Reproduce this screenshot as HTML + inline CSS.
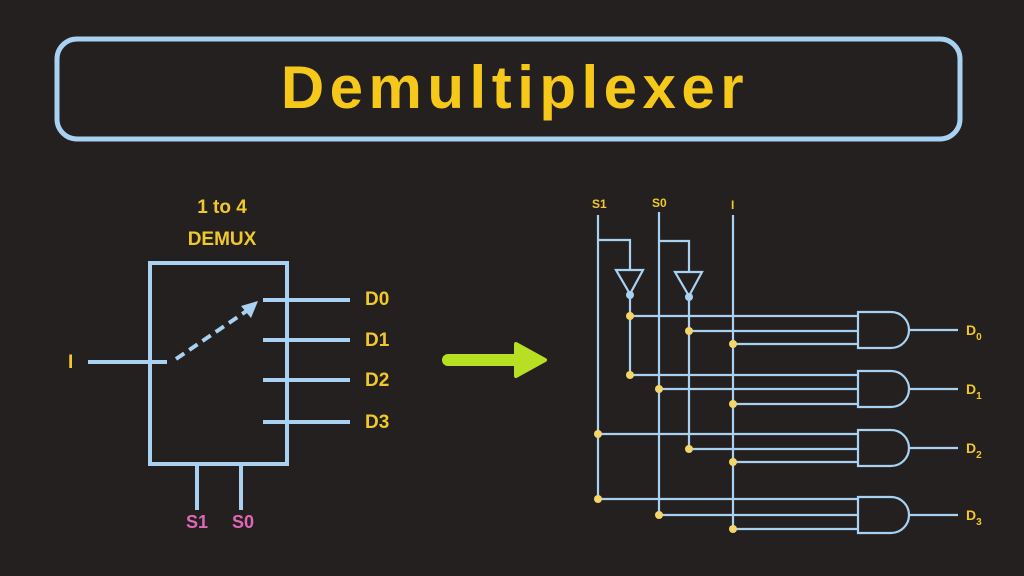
<!DOCTYPE html>
<html><head><style>
html,body{margin:0;padding:0;background:#242020;}
svg{display:block}
text{font-family:"Liberation Sans",sans-serif;font-weight:bold;}
</style></head><body>
<svg width="1024" height="576" viewBox="0 0 1024 576" xmlns="http://www.w3.org/2000/svg">
<rect width="1024" height="576" fill="#242020"/>
<rect x="57" y="39" width="903" height="100" rx="20" fill="none" stroke="#a9d2f2" stroke-width="5"/>
<text x="515" y="108" text-anchor="middle" font-size="60" letter-spacing="5.5" fill="#f6c81a">Demultiplexer</text>
<g fill="#f0c82a" font-size="19">
<text x="222" y="213" text-anchor="middle">1 to 4</text>
<text x="222" y="245" text-anchor="middle">DEMUX</text>
<text x="365" y="305">D0</text><text x="365" y="346">D1</text><text x="365" y="386">D2</text><text x="365" y="428">D3</text>
<text x="68" y="368">I</text>
</g>
<g fill="#e067b8" font-size="18"><text x="186" y="528">S1</text><text x="232" y="528">S0</text></g>
<g stroke="#a9d2f2" stroke-width="4" fill="none">
<rect x="150" y="263" width="137" height="201"/>
<line x1="263" y1="300" x2="350" y2="300"/><line x1="263" y1="340" x2="350" y2="340"/>
<line x1="263" y1="380" x2="350" y2="380"/><line x1="263" y1="422" x2="350" y2="422"/>
<line x1="88" y1="362" x2="167" y2="362"/>
<line x1="197" y1="464" x2="197" y2="510"/><line x1="241" y1="464" x2="241" y2="510"/>
<line x1="176" y1="359" x2="248" y2="310" stroke-dasharray="10,6"/>
</g>
<polygon points="258,301 241,306 251,318" fill="#a9d2f2"/>
<line x1="448" y1="360" x2="522" y2="360" stroke="#b6e021" stroke-width="12" stroke-linecap="round"/>
<polygon points="516,344 545,360 516,376" fill="#b6e021" stroke="#b6e021" stroke-width="4" stroke-linejoin="round"/>
<g fill="#f0c82a" font-size="12"><text x="592" y="208">S1</text><text x="652" y="207">S0</text><text x="731" y="209">I</text></g>
<g stroke="#a9d2f2" stroke-width="2.2" fill="none">
<line x1="598" y1="215" x2="598" y2="499"/>
<line x1="659" y1="212" x2="659" y2="515"/>
<line x1="733" y1="215" x2="733" y2="529"/>
<polyline points="598,240 630,240 630,270"/>
<polyline points="659,241 689,241 689,272"/>
<polygon points="616,270 643,270 630,294"/>
<polygon points="675,272 702,272 689,296"/>
<line x1="630" y1="298" x2="630" y2="375"/>
<line x1="689" y1="300" x2="689" y2="449"/>
<line x1="630" y1="316" x2="858" y2="316"/><line x1="689" y1="331" x2="858" y2="331"/><line x1="733" y1="344" x2="858" y2="344"/>
<line x1="630" y1="375" x2="858" y2="375"/><line x1="659" y1="389" x2="858" y2="389"/><line x1="733" y1="404" x2="858" y2="404"/>
<line x1="598" y1="434" x2="858" y2="434"/><line x1="689" y1="449" x2="858" y2="449"/><line x1="733" y1="462" x2="858" y2="462"/>
<line x1="598" y1="499" x2="858" y2="499"/><line x1="659" y1="515" x2="858" y2="515"/><line x1="733" y1="529" x2="858" y2="529"/>
<path d="M858 312 H891 A18 18 0 0 1 891 348 H858 Z"/>
<path d="M858 371 H891 A18 18 0 0 1 891 407 H858 Z"/>
<path d="M858 430 H891 A18 18 0 0 1 891 466 H858 Z"/>
<path d="M858 497 H891 A18 18 0 0 1 891 533 H858 Z"/>
<line x1="909" y1="330" x2="958" y2="330"/><line x1="909" y1="389" x2="958" y2="389"/>
<line x1="909" y1="448" x2="958" y2="448"/><line x1="909" y1="515" x2="958" y2="515"/>
</g>
<g fill="#a9d2f2"><circle cx="630" cy="295" r="4"/><circle cx="689" cy="297" r="4"/></g>
<g fill="#f5d56a">
<circle cx="630" cy="316" r="4"/><circle cx="689" cy="331" r="4"/><circle cx="733" cy="344" r="4"/>
<circle cx="630" cy="375" r="4"/><circle cx="659" cy="389" r="4"/><circle cx="733" cy="404" r="4"/>
<circle cx="598" cy="434" r="4"/><circle cx="689" cy="449" r="4"/><circle cx="733" cy="462" r="4"/>
<circle cx="598" cy="499" r="4"/><circle cx="659" cy="515" r="4"/><circle cx="733" cy="529" r="4"/>
</g>
<g fill="#f0c82a" font-size="14">
<text x="966" y="335">D<tspan font-size="10" dy="5">0</tspan></text>
<text x="966" y="394">D<tspan font-size="10" dy="5">1</tspan></text>
<text x="966" y="453">D<tspan font-size="10" dy="5">2</tspan></text>
<text x="966" y="520">D<tspan font-size="10" dy="5">3</tspan></text>
</g>
</svg>
</body></html>
